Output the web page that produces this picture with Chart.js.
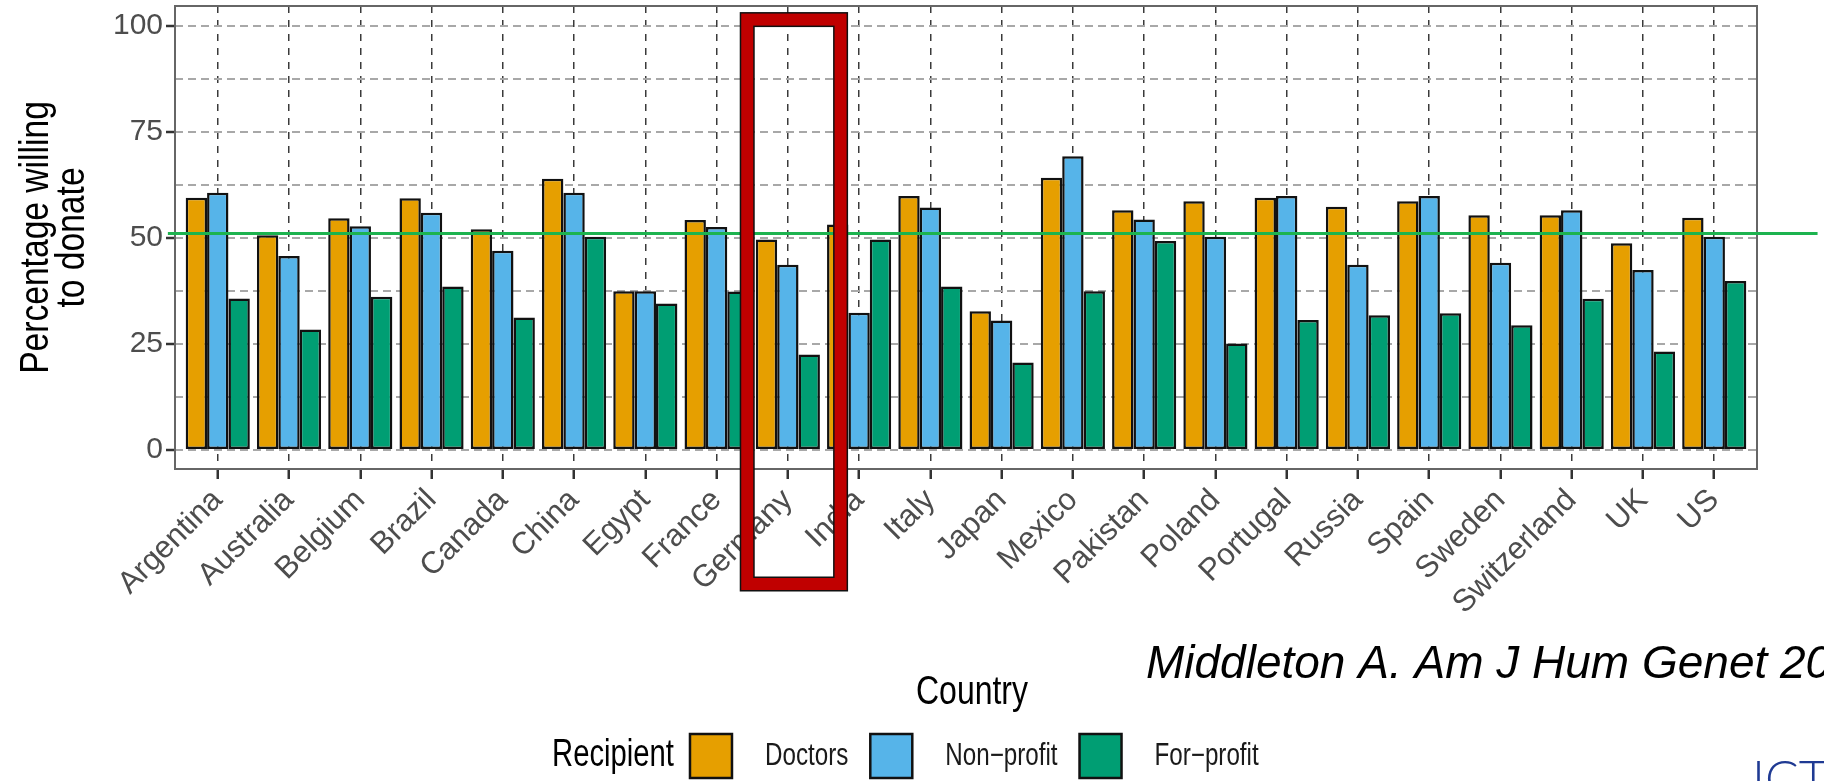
<!DOCTYPE html>
<html>
<head>
<meta charset="utf-8">
<script src="https://cdn.jsdelivr.net/npm/chart.js@4.4.1/dist/chart.umd.min.js"></script>
<style>
  html, body { margin: 0; padding: 0; background: #fff; }
  #wrap { width: 1824px; height: 781px; }
</style>
</head>
<body>
<div id="wrap"><canvas id="chart" width="1824" height="781"></canvas></div>
<script>
// data
const countries = ['Argentina', 'Australia', 'Belgium', 'Brazil', 'Canada', 'China', 'Egypt', 'France',
  'Germany', 'India', 'Italy', 'Japan', 'Mexico', 'Pakistan', 'Poland', 'Portugal', 'Russia', 'Spain',
  'Sweden', 'Switzerland', 'UK', 'US'];
const doctors   = [59.4, 50.6, 54.6, 59.3, 52.0, 63.9, 37.4, 54.2, 49.6, 53.1, 59.8, 32.7, 64.1, 56.5, 58.6, 59.4, 57.3, 58.6, 55.3, 55.3, 48.7, 54.7];
const nonProfit = [60.6, 45.7, 52.7, 55.9, 46.9, 60.6, 37.4, 52.5, 43.6, 32.3, 57.1, 30.5, 69.2, 54.3, 50.2, 59.8, 43.6, 59.8, 44.1, 56.5, 42.4, 50.2];
const forProfit = [35.7, 28.4, 36.1, 38.5, 31.2, 50.2, 34.5, 37.3, 22.5, 49.6, 38.5, 20.6, 37.4, 49.2, 25.1, 30.6, 31.7, 32.2, 29.4, 35.6, 23.2, 39.8];
const seriesNames = ['Doctors', 'Non\u2212profit', 'For\u2212profit'];
const seriesColors = ['#E69F00', '#56B4E9', '#009E73'];
const yTicks = [0, 12.5, 25, 37.5, 50, 62.5, 75, 87.5, 100];
const yLabelTicks = [0, 25, 50, 75, 100];
const refLine = 51;             // green horizontal line
const highlighted = 'Germany';  // red box
const xTitle = 'Country';
const yTitle = ['Percentage willing', 'to donate'];
const legendTitle = 'Recipient';
const citation = 'Middleton A. Am J Hum Genet 2020';

const FONT = '"Liberation Sans", Arial, Helvetica, sans-serif';
Chart.defaults.font.family = FONT;

function toPoints(values) {
  return values.map((v, i) => ({ x: i, y: v }));
}

// narrow text: titles and legend in the source are squeezed sideways
function squeezedText(ctx, text, x, y, sx, angle) {
  ctx.save();
  ctx.translate(x, y);
  if (angle) ctx.rotate(angle);
  ctx.scale(sx, 1);
  ctx.fillText(text, 0, 0);
  ctx.restore();
  return ctx.measureText(text).width * sx;
}

// extra drawing: panel border, reference line, red box, titles, legend, notes
const decorations = {
  id: 'decorations',
  afterDatasetsDraw(chart) {
    const { ctx, chartArea: a, scales } = chart;
    ctx.save();
    ctx.strokeStyle = '#666';
    ctx.lineWidth = 2;
    ctx.strokeRect(a.left, a.top, a.right - a.left, a.bottom - a.top);

    // reference line
    const y = scales.y.getPixelForValue(refLine);
    ctx.strokeStyle = '#1db34f';
    ctx.lineWidth = 3;
    ctx.beginPath();
    ctx.moveTo(scales.x.getPixelForValue(-0.7), y);
    ctx.lineTo(scales.x.getPixelForValue(22.45), y);
    ctx.stroke();
    ctx.restore();
  },
  afterDraw(chart) {
    const { ctx, scales, chartArea: a } = chart;
    ctx.save();

    // axis titles
    ctx.fillStyle = '#000';
    ctx.textAlign = 'center';
    ctx.textBaseline = 'middle';
    ctx.font = '40px ' + FONT;
    squeezedText(ctx, xTitle, (a.left + a.right) / 2 + 6, 693, 0.8);
    const yMid = (a.top + a.bottom) / 2;
    squeezedText(ctx, yTitle[0], 37, yMid, 0.84, -Math.PI / 2);
    squeezedText(ctx, yTitle[1], 73, yMid, 0.84, -Math.PI / 2);

    // red box round the highlighted country
    const gi = countries.indexOf(highlighted);
    const x1 = scales.x.getPixelForValue(gi - 0.57);
    const x2 = scales.x.getPixelForValue(gi + 0.74);
    const y1 = scales.y.getPixelForValue(101.4);
    const y2 = scales.y.getPixelForValue(-31.6);
    ctx.lineJoin = 'miter';
    ctx.strokeStyle = '#111';
    ctx.lineWidth = 15;
    ctx.strokeRect(x1, y1, x2 - x1, y2 - y1);
    ctx.strokeStyle = '#c00000';
    ctx.lineWidth = 12;
    ctx.strokeRect(x1, y1, x2 - x1, y2 - y1);

    // legend
    let lx = 552;
    const ly = 756;
    ctx.textAlign = 'left';
    ctx.fillStyle = '#000';
    ctx.font = '38px ' + FONT;
    lx += squeezedText(ctx, legendTitle, lx, ly, 0.77) + 16;
    ctx.font = '31px ' + FONT;
    chart.data.datasets.forEach(ds => {
      ctx.fillStyle = ds.backgroundColor;
      ctx.fillRect(lx, 734, 42, 44);
      ctx.strokeStyle = '#111';
      ctx.lineWidth = 2.5;
      ctx.strokeRect(lx, 734, 42, 44);
      lx += 42 + 33;
      ctx.fillStyle = '#1a1a1a';
      lx += squeezedText(ctx, ds.label, lx, ly, 0.78) + 22;
    });

    // citation
    ctx.fillStyle = '#000';
    ctx.font = 'italic 46px ' + FONT;
    ctx.textBaseline = 'alphabetic';
    ctx.fillText(citation, 1146, 678);

    // logo fragment at the corner
    ctx.fillStyle = '#1f3a93';
    ctx.font = '300 50px Lato, ' + FONT;
    ctx.fillText('ICT', 1752, 796);
    ctx.restore();
  }
};

const ctx = document.getElementById('chart').getContext('2d');
const chart = new Chart(ctx, {
  type: 'bar',
  data: {
    datasets: [doctors, nonProfit, forProfit].map((vals, k) => ({
      label: seriesNames[k],
      data: toPoints(vals),
      backgroundColor: seriesColors[k],
      borderColor: '#111',
      borderWidth: 2.5,
      borderSkipped: false,
      categoryPercentage: 0.9,
      barPercentage: 1.0
    }))
  },
  options: {
    responsive: false,
    animation: false,
    devicePixelRatio: 1,
    layout: { padding: { left: 0, top: 6, right: 67, bottom: 0 } },
    plugins: {
      legend: { display: false },
      tooltip: { enabled: false }
    },
    scales: {
      x: {
        type: 'linear',
        min: -0.6,
        max: 21.6,
        offset: false,
        bounds: 'data',
        afterBuildTicks: axis => { axis.ticks = countries.map((c, i) => ({ value: i })); },
        afterFit: s => { s.height = 312; s.paddingLeft = 0; s.paddingRight = 0; },
        border: { display: false, dash: [7, 7] },
        grid: {
          offset: false,
          color: '#3a3a3a',
          lineWidth: 1.5,
          borderDash: [7, 7],
          drawTicks: true,
          tickLength: 10,
          tickColor: '#333',
          tickWidth: 2.5,
          tickBorderDash: []
        },
        ticks: {
          callback: v => countries[v],
          autoSkip: false,
          minRotation: 45,
          maxRotation: 45,
          padding: 3,
          color: '#4d4d4d',
          font: { size: 31 }
        },
        title: { display: false }
      },
      y: {
        min: -4.5,
        max: 104.6,
        bounds: 'data',
        afterBuildTicks: axis => { axis.ticks = yTicks.map(v => ({ value: v })); },
        afterFit: s => { s.width = 175; s.paddingTop = 0; s.paddingBottom = 0; },
        border: { display: false, dash: [8, 5] },
        grid: {
          color: '#a8a8a8',
          lineWidth: 2,
          borderDash: [8, 5],
          drawTicks: true,
          tickLength: 9,
          tickWidth: 2.5,
          tickBorderDash: [],
          tickColor: c => (c.tick && yLabelTicks.includes(c.tick.value)) ? '#333' : 'rgba(0,0,0,0)'
        },
        ticks: {
          callback: v => yLabelTicks.includes(v) ? String(v) : '',
          padding: 3,
          color: '#4d4d4d',
          font: { size: 30 }
        },
        title: { display: false }
      }
    }
  },
  plugins: [decorations]
});
</script>
</body>
</html>
